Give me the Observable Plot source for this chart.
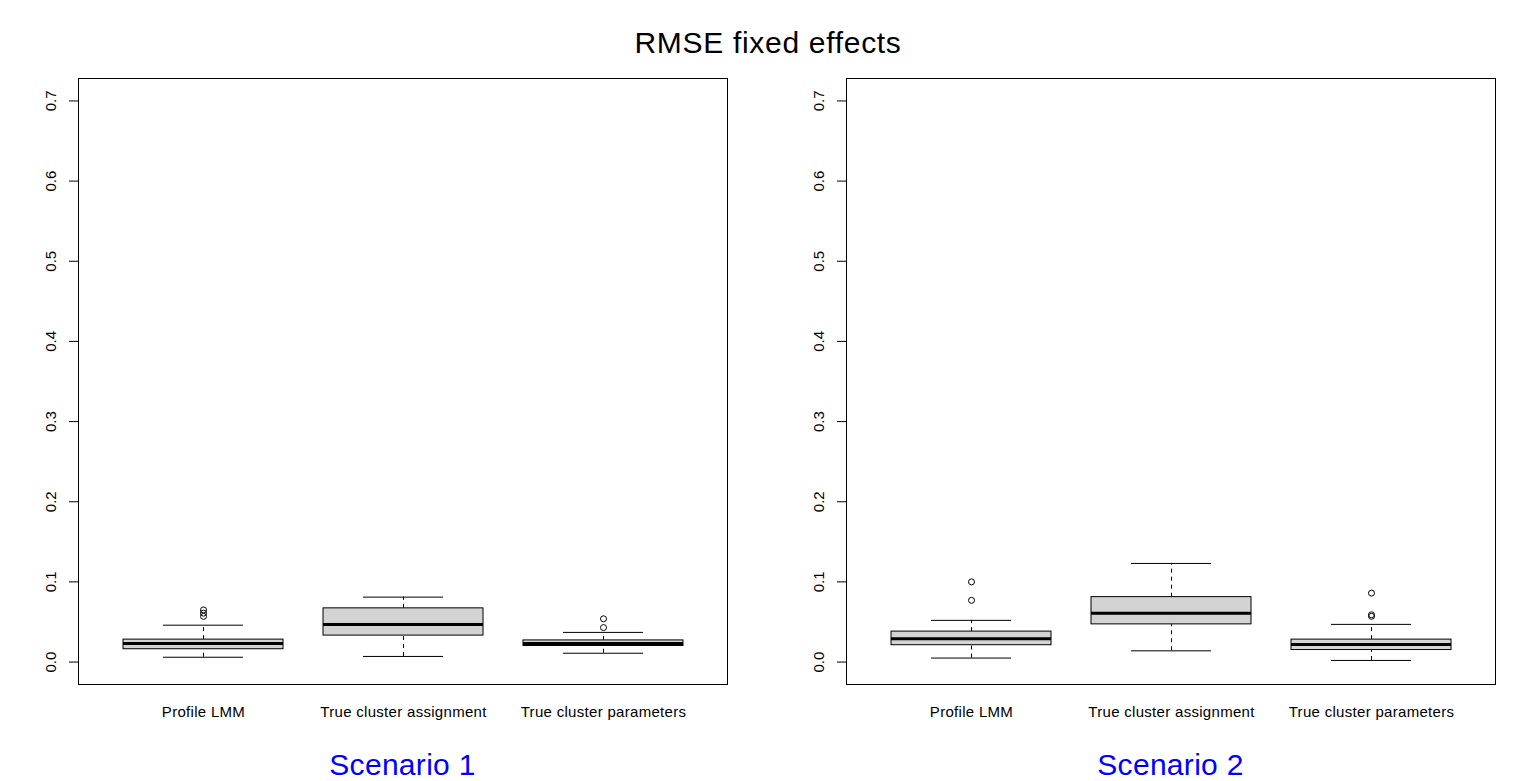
<!DOCTYPE html>
<html>
<head>
<meta charset="utf-8">
<script src="https://cdn.jsdelivr.net/npm/d3@7"></script>
<script src="https://cdn.jsdelivr.net/npm/@observablehq/plot@0.6"></script>
<style>
  html, body { margin: 0; padding: 0; background: #fff; }
  body { width: 1536px; height: 781px; overflow: hidden; font-family: "Liberation Sans", Arial, sans-serif; }
  #title { height: 70px; box-sizing: border-box; padding-top: 28px; line-height: 30px; font-size: 30px; letter-spacing: 0.7px; text-align: center; color: #000; }
  #panels { display: flex; flex-direction: row; }
  .panel { width: 768px; }
  .panel svg { display: block; }
  .panel svg g[aria-label="x-axis tick label"] text { letter-spacing: 0.3px; }
  .caption { box-sizing: border-box; padding-left: 78px; padding-right: 41px; margin-top: 20px; text-align: center; font-size: 30px; line-height: 30px; letter-spacing: 0.3px; color: #0000ff; }
</style>
</head>
<body>
<div id="title">RMSE fixed effects</div>
<div id="panels">
  <div class="panel" id="p1"></div>
  <div class="panel" id="p2"></div>
</div>
<script>
// ---- Data ----
const categories = ["Profile LMM", "True cluster assignment", "True cluster parameters"];
const yTicks = [0, 0.1, 0.2, 0.3, 0.4, 0.5, 0.6, 0.7];
const scenarioNames = ["Scenario 1", "Scenario 2"];

// Scenario 1
const s1Lower    = [0.006, 0.007, 0.011];
const s1Q1       = [0.016, 0.033, 0.020];
const s1Median   = [0.023, 0.047, 0.023];
const s1Q3       = [0.028, 0.067, 0.027];
const s1Upper    = [0.046, 0.081, 0.037];
const s1Outliers = [[0.065, 0.061, 0.057], [], [0.054, 0.043]];

// Scenario 2
const s2Lower    = [0.005, 0.014, 0.002];
const s2Q1       = [0.021, 0.047, 0.015];
const s2Median   = [0.029, 0.061, 0.022];
const s2Q3       = [0.038, 0.081, 0.028];
const s2Upper    = [0.052, 0.123, 0.047];
const s2Outliers = [[0.100, 0.077], [], [0.086, 0.059, 0.057]];

function makePanel(lower, q1, median, q3, upper, outliers) {
  const boxes = categories.map((c, i) => ({
    cat: c, lower: lower[i], q1: q1[i], median: median[i], q3: q3[i], upper: upper[i]
  }));
  const pts = categories.flatMap((c, i) => outliers[i].map(v => ({cat: c, value: v})));
  return Plot.plot({
    width: 768,
    height: 660,
    marginLeft: 78,
    marginRight: 41,
    marginTop: 8,
    marginBottom: 46,
    style: {fontFamily: "'Liberation Sans', Arial, sans-serif", fontSize: "15px", color: "#000", background: "#fff", overflow: "visible"},
    x: {type: "band", domain: categories, paddingInner: 0.2, paddingOuter: 0.22, label: null},
    y: {domain: [-0.028, 0.728], label: null},
    marks: [
      Plot.ruleX(boxes, {x: "cat", y1: "q3", y2: "upper", stroke: "#000", strokeWidth: 1, strokeDasharray: "4,4"}),
      Plot.ruleX(boxes, {x: "cat", y1: "lower", y2: "q1", stroke: "#000", strokeWidth: 1, strokeDasharray: "4,4"}),
      Plot.tickY(boxes, {x: "cat", y: "upper", stroke: "#000", strokeWidth: 1, insetLeft: 40, insetRight: 40}),
      Plot.tickY(boxes, {x: "cat", y: "lower", stroke: "#000", strokeWidth: 1, insetLeft: 40, insetRight: 40}),
      Plot.barY(boxes, {x: "cat", y1: "q1", y2: "q3", fill: "#d3d3d3", stroke: "#000", strokeWidth: 1}),
      Plot.tickY(boxes, {x: "cat", y: "median", stroke: "#000", strokeWidth: 3}),
      Plot.dot(pts, {x: "cat", y: "value", r: 3, stroke: "#000", fill: "none", strokeWidth: 1}),
      Plot.frame({stroke: "#000", strokeWidth: 1}),
      Plot.axisY({ticks: yTicks, tickFormat: d3.format(".1f"), tickSize: 9, tickPadding: 14, tickRotate: -90, label: null}),
      Plot.axisX({tickSize: 0, tickPadding: 22, label: null})
    ]
  });
}

const p1 = document.getElementById("p1");
p1.appendChild(makePanel(s1Lower, s1Q1, s1Median, s1Q3, s1Upper, s1Outliers));
const c1 = document.createElement("div");
c1.className = "caption"; c1.textContent = scenarioNames[0];
p1.appendChild(c1);

const p2 = document.getElementById("p2");
p2.appendChild(makePanel(s2Lower, s2Q1, s2Median, s2Q3, s2Upper, s2Outliers));
const c2 = document.createElement("div");
c2.className = "caption"; c2.textContent = scenarioNames[1];
p2.appendChild(c2);
</script>
</body>
</html>
